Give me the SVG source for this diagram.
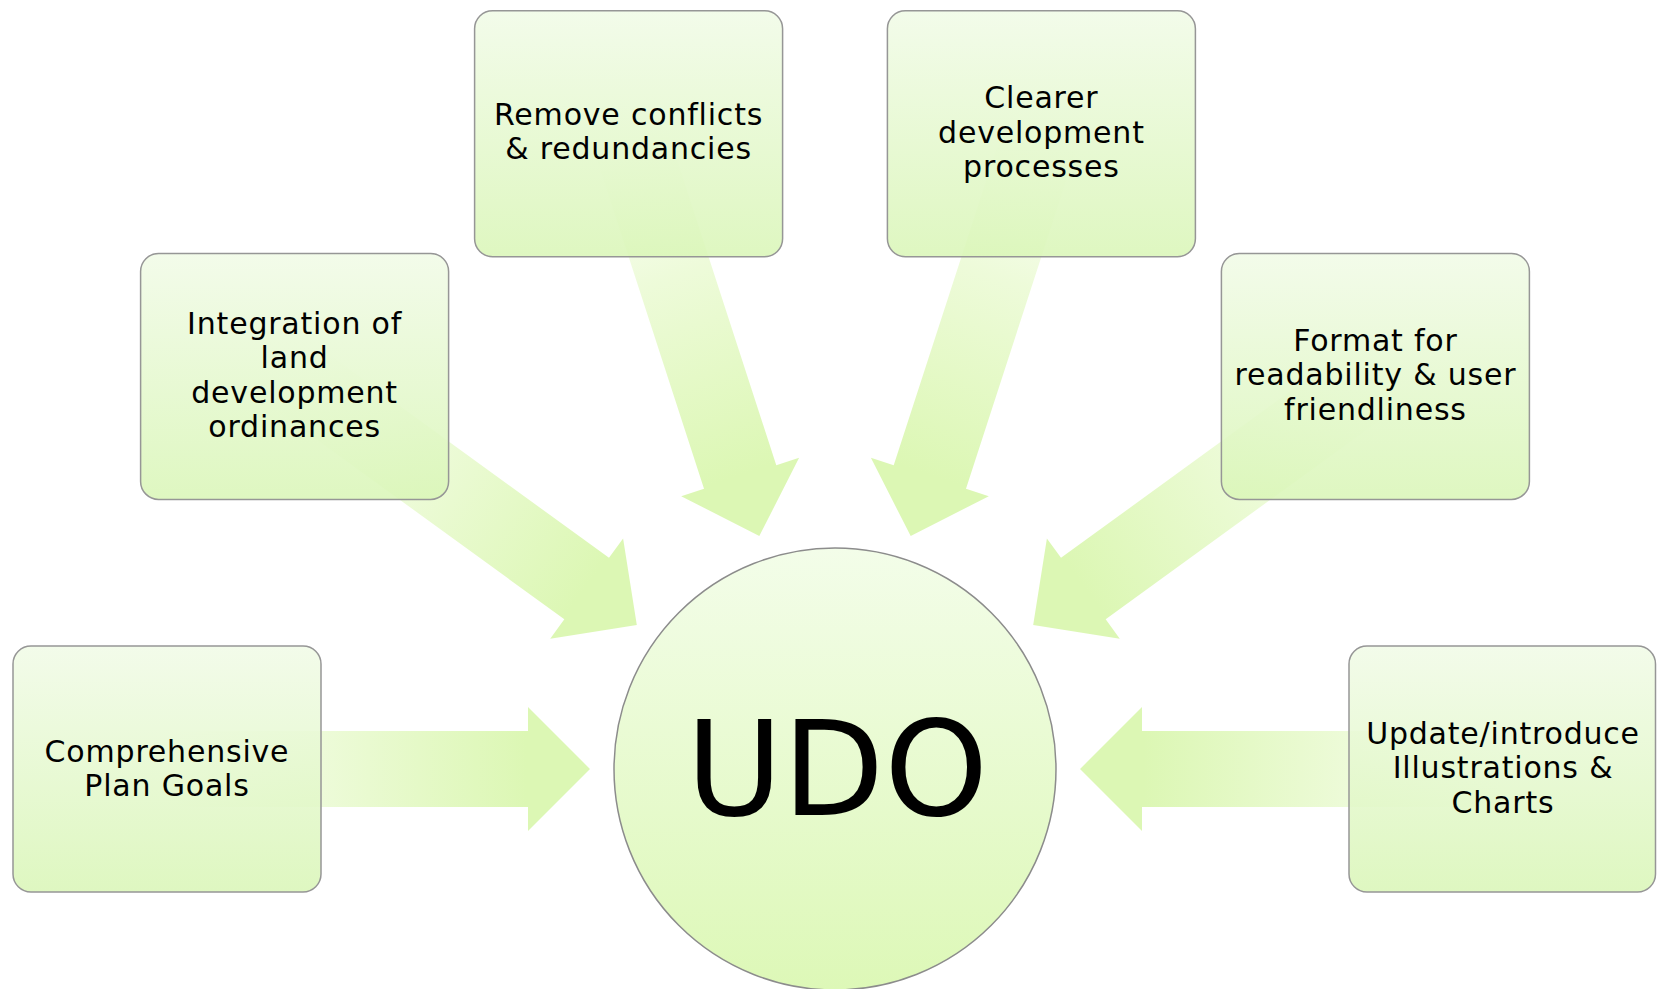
<svg xmlns="http://www.w3.org/2000/svg" width="1657" height="989" viewBox="0 0 1657 989">
  <defs>
    <linearGradient id="boxFill" x1="0" y1="0" x2="0" y2="1">
      <stop offset="0" stop-color="#f1fbe7" stop-opacity="0.88"/>
      <stop offset="1" stop-color="#daf6b8" stop-opacity="0.88"/>
    </linearGradient>
    <linearGradient id="circFill" x1="0" y1="0" x2="0" y2="1">
      <stop offset="0" stop-color="#f3fde9"/>
      <stop offset="1" stop-color="#ddf8b7"/>
    </linearGradient>
    <linearGradient id="arrowFill" x1="0" y1="0" x2="1" y2="0">
      <stop offset="0" stop-color="#dcf7b4" stop-opacity="0"/>
      <stop offset="0.35" stop-color="#dcf7b4" stop-opacity="0.5"/>
      <stop offset="0.85" stop-color="#dcf7b4" stop-opacity="1"/>
      <stop offset="1" stop-color="#dcf7b4" stop-opacity="1"/>
    </linearGradient>
    <path id="arrowShape" d="M0,-38 H361 V-62 L423,0 L361,62 V38 H0 Z"/>
  </defs>
  <style>
    .box { fill: url(#boxFill); stroke: #969696; stroke-width: 1.5; }
    .arrow { fill: url(#arrowFill); }
    .lbl { font-family: "DejaVu Sans", Verdana, sans-serif; font-size: 30px; letter-spacing: 0.8px; fill: #000000; text-anchor: middle; }
    .hub { font-family: "DejaVu Sans", Verdana, sans-serif; font-size: 132px; fill: #000000; text-anchor: middle; }
  </style>

  <g id="connectors">
    <use href="#arrowShape" class="arrow" transform="translate(167,769) rotate(0)"/>
    <use href="#arrowShape" class="arrow" transform="translate(294.6,376.4) rotate(36)"/>
    <use href="#arrowShape" class="arrow" transform="translate(628.6,133.7) rotate(72)"/>
    <use href="#arrowShape" class="arrow" transform="translate(1041.4,133.7) rotate(108)"/>
    <use href="#arrowShape" class="arrow" transform="translate(1375.4,376.4) rotate(144)"/>
    <use href="#arrowShape" class="arrow" transform="translate(1503,769) rotate(180)"/>
  </g>

  <g id="node-udo">
    <circle cx="835" cy="769" r="221" fill="url(#circFill)" stroke="#8c8c8c" stroke-width="1.5"/>
    <text class="hub" x="837" y="815">UDO</text>
  </g>

  <g id="node-comprehensive">
    <rect class="box" x="13" y="646" width="308" height="246" rx="18"/>
    <text class="lbl"><tspan x="167" y="761.5">Comprehensive</tspan><tspan x="167" y="796">Plan Goals</tspan></text>
  </g>

  <g id="node-integration">
    <rect class="box" x="140.6" y="253.4" width="308" height="246" rx="18"/>
    <text class="lbl"><tspan x="294.6" y="333.6">Integration of</tspan><tspan x="294.6" y="368.1">land</tspan><tspan x="294.6" y="402.6">development</tspan><tspan x="294.6" y="437.1">ordinances</tspan></text>
  </g>

  <g id="node-remove">
    <rect class="box" x="474.6" y="10.7" width="308" height="246" rx="18"/>
    <text class="lbl"><tspan x="628.6" y="125">Remove conflicts</tspan><tspan x="628.6" y="159">&amp; redundancies</tspan></text>
  </g>

  <g id="node-clearer">
    <rect class="box" x="887.4" y="10.7" width="308" height="246" rx="18"/>
    <text class="lbl"><tspan x="1041.4" y="108.2">Clearer</tspan><tspan x="1041.4" y="142.7">development</tspan><tspan x="1041.4" y="177.2">processes</tspan></text>
  </g>

  <g id="node-format">
    <rect class="box" x="1221.4" y="253.4" width="308" height="246" rx="18"/>
    <text class="lbl"><tspan x="1375.4" y="350.9">Format for</tspan><tspan x="1375.4" y="385.4">readability &amp; user</tspan><tspan x="1375.4" y="419.9">friendliness</tspan></text>
  </g>

  <g id="node-update">
    <rect class="box" x="1349" y="646" width="306.5" height="246" rx="18"/>
    <text class="lbl"><tspan x="1503" y="743.5">Update/introduce</tspan><tspan x="1503" y="778">Illustrations &amp;</tspan><tspan x="1503" y="812.5">Charts</tspan></text>
  </g>
</svg>
